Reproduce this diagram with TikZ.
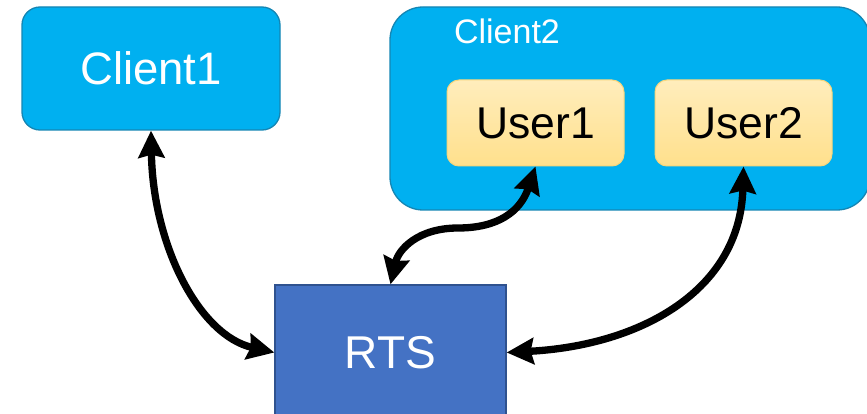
\documentclass[tikz,border=0pt]{standalone}
\usepackage{fontspec}
\setmainfont{Liberation Sans}
\usetikzlibrary{arrows.meta}
\definecolor{cyanfill}{HTML}{00B0F0}
\definecolor{cyanedge}{HTML}{1486B4}
\definecolor{userTop}{HTML}{FFEDBC}
\definecolor{userBot}{HTML}{FFE08C}
\definecolor{userEdge}{HTML}{F7D67C}
\definecolor{rtsfill}{HTML}{4472C4}
\definecolor{rtsedge}{HTML}{2F528F}
\tikzset{
  clientbox/.style={draw=cyanedge, line width=1.3pt, fill=cyanfill, rounded corners=#1, inner sep=0pt, text=white},
  userbox/.style={draw=userEdge, line width=1pt, top color=userTop, bottom color=userBot, rounded corners=12pt,
    minimum width=177pt, minimum height=86pt, inner sep=0pt, font=\fontsize{44.5}{48}\selectfont},
  rtsbox/.style={draw=rtsedge, line width=1.3pt, fill=rtsfill, minimum width=231pt, minimum height=135pt,
    inner sep=0pt, text=white, font=\fontsize{46}{50}\selectfont},
  link/.style={line width=7.3pt, {Stealth[length=27pt,width=26pt,inset=3pt]}-{Stealth[length=27pt,width=26pt,inset=3pt]}}
}
\begin{document}
\begin{tikzpicture}[x=1pt,y=-1pt]
\useasboundingbox (0,0) rectangle (867,414);
\fill[white] (0,0) rectangle (867,414);
% Client1
\node[clientbox=18pt, minimum width=258pt, minimum height=123pt, font=\fontsize{45.5}{50}\selectfont] (c1) at (151,68.5) {Client1};
% Client2 container
\node[clientbox=33pt, minimum width=480pt, minimum height=203pt] (c2) at (630,108.5) {};
\node[text=white, inner sep=0pt, font=\fontsize{34}{38}\selectfont] (c2l) at (507,31) {Client2};
% Users
\node[userbox] (u1) at (535.5,123) {User1};
\node[userbox] (u2) at (743.5,123) {User2};
% RTS
\node[rtsbox] (rts) at (390.5,352.5) {RTS};
% connectors
\coordinate (m1) at (458,228);
\draw[link] (c1.south) .. controls +(2,115) and +(-75,-17) .. (rts.west);
\draw[link] (u1.south) .. controls +(-15,45) and +(40,0) .. (m1) .. controls +(-40,0) and +(8,-35) .. (rts.north);
\draw[link] (u2.south) .. controls +(-3.5,124) and +(134,-7) .. (rts.east);
\end{tikzpicture}
\end{document}
